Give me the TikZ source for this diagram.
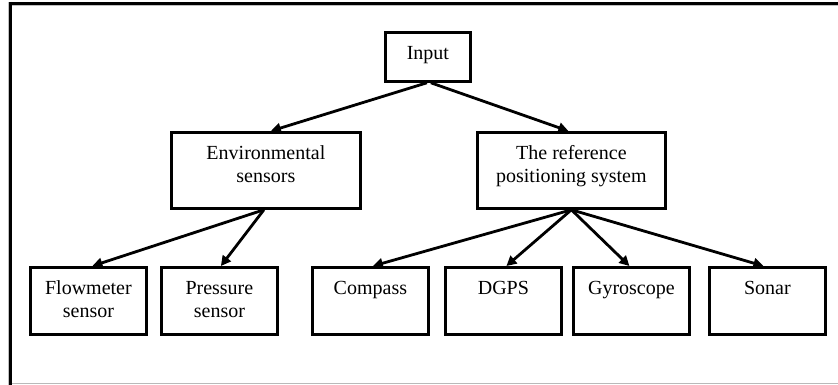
\documentclass[tikz,border=0pt]{standalone}
\usepackage{fontspec}
\setmainfont{Liberation Serif}
\usetikzlibrary{arrows.meta}
\newcommand{\bxtext}[3]{\parbox[c][#2][t]{#1}{\centering\vspace*{13pt}\rule{0pt}{14pt}#3}}
\begin{document}
\begin{tikzpicture}[x=1pt,y=-1pt,
  box/.style={draw, line width=2.8pt, inner sep=0pt, anchor=north west,
    font=\fontsize{20}{23.5}\selectfont},
  arr/.style={line width=2.8pt, -{Triangle[length=10pt,width=10pt]}}]
\useasboundingbox (0,0) rectangle (838,385);
% outer frame (cropped at the right)
\draw[gray!50, line width=1pt] (9,5.4) -- (838,5.4);
\draw[gray!50, line width=1pt] (8.5,2) -- (8.5,385);
\draw[line width=3pt] (9,3.2) -- (838,3.2);
\draw[line width=3pt] (10.6,2) -- (10.6,385);
\draw[gray!55, line width=1.2pt] (12,383.6) -- (838,383.6);
% nodes
\node[box] (in)   at (384,31)  {\bxtext{85pt}{49pt}{Input}};
\node[box] (env)  at (170,131) {\bxtext{189pt}{76pt}{Environmental\\sensors}};
\node[box] (ref)  at (476,131) {\bxtext{188pt}{76pt}{The reference\\positioning system}};
\node[box] (flow) at (29,266)  {\bxtext{116pt}{67pt}{Flowmeter\\sensor}};
\node[box] (pres) at (160,266) {\bxtext{116pt}{67pt}{Pressure\\sensor}};
\node[box] (comp) at (311,266) {\bxtext{116pt}{67pt}{Compass}};
\node[box] (dgps) at (444,266) {\bxtext{116pt}{67pt}{DGPS}};
\node[box] (gyro) at (572,266) {\bxtext{116pt}{67pt}{Gyroscope}};
\node[box] (sonar) at (708,266) {\bxtext{116pt}{67pt}{Sonar}};
% connectors
\draw[arr] ([xshift=-1pt]in.south) -- ([xshift=5pt]env.north);
\draw[arr] ([xshift=3pt]in.south) -- ([xshift=-3pt]ref.north);
\draw[arr] ([xshift=-2pt]env.south) -- ([xshift=4pt]flow.north);
\draw[arr] ([xshift=-2pt]env.south) -- ([xshift=1.5pt]pres.north);
\draw[arr] (ref.south) -- ([xshift=2.5pt]comp.north);
\draw[arr] (ref.south) -- ([xshift=3pt]dgps.north);
\draw[arr] (ref.south) -- ([xshift=-2pt]gyro.north);
\draw[arr] (ref.south) -- ([xshift=-4pt]sonar.north);
\end{tikzpicture}
\end{document}
